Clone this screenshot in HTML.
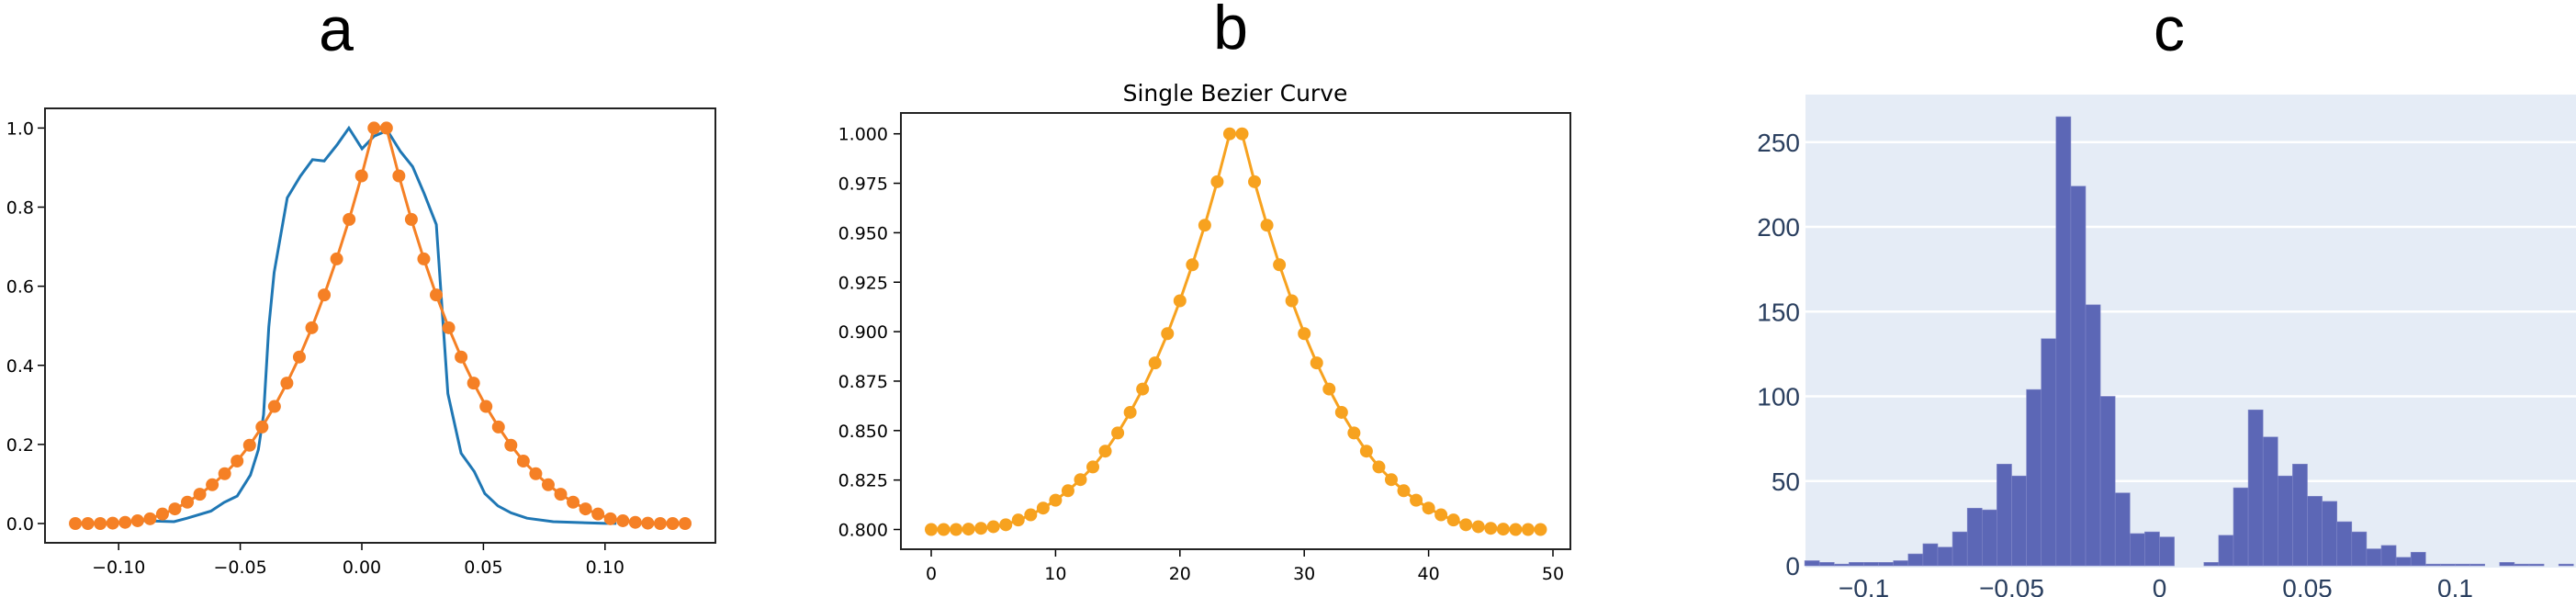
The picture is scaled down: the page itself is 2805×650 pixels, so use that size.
<!DOCTYPE html>
<html><head><meta charset="utf-8">
<style>
html,body{margin:0;padding:0;background:#fff;}
svg{display:block;}
</style></head>
<body>
<svg id="s" width="2805" height="650" xmlns="http://www.w3.org/2000/svg">
<rect width="2805" height="650" fill="#fff"/>
<text x="366" y="55" font-family="Liberation Sans, sans-serif" font-size="68" text-anchor="middle">a</text>
<text x="1340" y="53" font-family="Liberation Sans, sans-serif" font-size="68" text-anchor="middle">b</text>
<text x="2362" y="55" font-family="Liberation Sans, sans-serif" font-size="68" text-anchor="middle">c</text>
<text x="1345" y="110" font-family="DejaVu Sans, sans-serif" font-size="25" text-anchor="middle">Single Bezier Curve</text>
<rect x="1966" y="103" width="839" height="515" fill="#E5ECF6"/>
<g id="g"></g>
</svg>
<script>
const NS="http://www.w3.org/2000/svg", g=document.getElementById('g');
function el(t,a,txt){const e=document.createElementNS(NS,t);for(const k in a)e.setAttribute(k,a[k]);if(txt!==undefined)e.textContent=txt;g.appendChild(e);return e;}
const f0=[0,0,0,0.001,0.003,0.007,0.012,0.024,0.037,0.054,0.074,0.098,0.126,0.158,0.198,0.244,0.296,0.355,0.421,0.495,0.578,0.669,0.769,0.879,1.0];
const f=[];for(let i=0;i<50;i++)f.push(i<25?f0[i]:f0[49-i]);
// ---------- Panel a ----------
const AX=v=>394+v*2648, AY=v=>570-v*430.6;
const fa="DejaVu Sans, sans-serif";
[-0.10,-0.05,0,0.05,0.10].forEach((v,i)=>{const x=AX(v);el('line',{x1:x,x2:x,y1:591,y2:599,stroke:'#000','stroke-width':1.5});
 el('text',{x:x,y:624,'font-family':fa,'font-size':19,'text-anchor':'middle'},['\u22120.10','\u22120.05','0.00','0.05','0.10'][i]);});
[0,0.2,0.4,0.6,0.8,1.0].forEach(v=>{const y=AY(v);el('line',{x1:41,x2:49,y1:y,y2:y,stroke:'#000','stroke-width':1.5});
 el('text',{x:37,y:y+7,'font-family':fa,'font-size':19,'text-anchor':'end'},v.toFixed(1));});
const blue=[[270,1352],[330,1355],[355,1345],[400,1325],[425,1300],[450,1282],[475,1222],[490,1150],[500,1050],[510,800],[520,645],[545,432],[570,370],[593,323],[615,327],[640,280],[662,233],[687,292],[710,256],[735,240],[760,300],[783,343],[805,420],[828,508],[850,990],[875,1160],[900,1212],[920,1275],[945,1310],[970,1330],[1000,1345],[1050,1355],[1150,1360],[1170,1360]];
el('polyline',{points:blue.map(p=>(49+(p[0]-85)*0.5735).toFixed(1)+','+(118+(p[1]-177)*0.382).toFixed(1)).join(' '),fill:'none',stroke:'#1f77b4','stroke-width':3});
const ap=f.map((v,i)=>[AX(-0.1178+i*0.005117),AY(v)]);
el('polyline',{points:ap.map(p=>p[0].toFixed(1)+','+p[1].toFixed(1)).join(' '),fill:'none',stroke:'#f58025','stroke-width':3});
ap.forEach(p=>el('circle',{cx:p[0],cy:p[1],r:7,fill:'#f58025'}));
el('rect',{x:49,y:118,width:730,height:473,fill:'none',stroke:'#222','stroke-width':2});
// ---------- Panel b ----------
const BX=v=>1014+v*13.54, BY=v=>576.5-(v-0.8)*2154;
[0,10,20,30,40,50].forEach(v=>{const x=BX(v);el('line',{x1:x,x2:x,y1:598,y2:606,stroke:'#000','stroke-width':1.5});
 el('text',{x:x,y:631,'font-family':fa,'font-size':19,'text-anchor':'middle'},String(v));});
for(let k=0;k<=8;k++){const v=0.8+k*0.025,y=BY(v);el('line',{x1:973,x2:981,y1:y,y2:y,stroke:'#000','stroke-width':1.5});
 el('text',{x:967,y:y+7,'font-family':fa,'font-size':19,'text-anchor':'end'},v.toFixed(3));}
const bp=f.map((v,i)=>[BX(i),BY(0.8+0.2*v)]);
el('polyline',{points:bp.map(p=>p[0].toFixed(1)+','+p[1].toFixed(1)).join(' '),fill:'none',stroke:'#f7a21f','stroke-width':3});
bp.forEach(p=>el('circle',{cx:p[0],cy:p[1],r:7,fill:'#f7a21f'}));
el('rect',{x:981,y:123,width:729,height:475,fill:'none',stroke:'#222','stroke-width':2});
// ---------- Panel c ----------
const CX=v=>2351.5+v*3220, CY=v=>616-v*1.845;
const fc="Liberation Sans, sans-serif";
[0,50,100,150,200,250].forEach(v=>{const y=CY(v);if(v>0)el('line',{x1:1966,x2:2805,y1:y,y2:y,stroke:'#fff','stroke-width':2.5});
 el('text',{x:1960,y:y+10,'font-family':fc,'font-size':28,'text-anchor':'end',fill:'#2a3f5f'},String(v));});
[-0.1,-0.05,0,0.05,0.1].forEach((v,i)=>el('text',{x:CX(v),y:650,'font-family':fc,'font-size':28,'text-anchor':'middle',fill:'#2a3f5f'},['\u22120.1','\u22120.05','0','0.05','0.1'][i]));
const cnt=[3,2,1,2,2,2,3,7,13,11,20,34,33,60,53,104,134,265,224,154,100,43,19,20,17,0,0,2,18,46,92,76,53,60,41,38,26,20,10,12,5,8,1,1,1,1,0,2,1,1,0,1];
cnt.forEach((c,i)=>{if(!c)return;const x0=CX(-0.12+i*0.005),x1=Math.min(CX(-0.115+i*0.005),2805);
 el('rect',{x:x0,y:CY(c),width:x1-x0,height:CY(0)-CY(c),fill:'#5c67b6',stroke:'#8088c8','stroke-width':0.6});});
</script>
</body></html>
